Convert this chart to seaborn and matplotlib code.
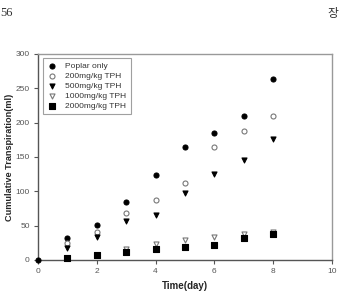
import numpy as np
import pandas as pd
import matplotlib
matplotlib.use('Agg')
import matplotlib.pyplot as plt
import seaborn as sns

# data (cumulative transpiration, ml)
days = [0, 1, 2, 3, 4, 5, 6, 7, 8]
poplar_only = [0, 32, 51, 84, 123, 165, 185, 210, 264]
tph_200 = [np.nan, 25, 41, 69, 87, 112, 165, 188, 210]
tph_500 = [np.nan, 18, 33, 57, 65, 97, 125, 145, 176]
tph_1000 = [np.nan, 3, 7, 16, 23, 29, 33, 38, 41]
tph_2000 = [np.nan, 2.5, 7, 11, 16, 19, 22, 32, 38]

series_names = ['Poplar only', '200mg/kg TPH', '500mg/kg TPH',
                '1000mg/kg TPH', '2000mg/kg TPH']
series_values = [poplar_only, tph_200, tph_500, tph_1000, tph_2000]

x_ticks = [0, 2, 4, 6, 8, 10]
y_ticks = [0, 50, 100, 150, 200, 250, 300]

df = pd.DataFrame({'day': days * 5,
                   'value': sum(series_values, []),
                   'series': [n for n in series_names for _ in days]})

sns.set_style('ticks')
plt.rcParams['font.family'] = ['Liberation Sans', 'DejaVu Sans']

fig = plt.figure(figsize=(3.4, 2.93), dpi=100)
ax = fig.add_axes([0.112, 0.113, 0.864, 0.703])

# marker styles: (marker, face, edge)
styles = {
    'Poplar only': ('o', 'black', 'black'),
    '200mg/kg TPH': ('o', 'white', '#777777'),
    '500mg/kg TPH': ('v', 'black', 'black'),
    '1000mg/kg TPH': ('v', 'white', '#777777'),
    '2000mg/kg TPH': ('s', 'black', 'black'),
}
for name in series_names:
    m, fc, ec = styles[name]
    sub = df[df['series'] == name].dropna()
    sns.scatterplot(data=sub, x='day', y='value', ax=ax, marker=m,
                    color=fc, edgecolor=ec, linewidth=0.8, s=13,
                    label=name, zorder=3, clip_on=False)

ax.set_xlim(0, 10)
ax.set_ylim(0, 300)
ax.set_xticks(x_ticks)
ax.set_yticks(y_ticks)
ax.tick_params(direction='out', length=3, width=0.8, colors='#555555',
               labelsize=6, pad=3)
for side in ['top', 'right']:
    ax.spines[side].set_color('#999999')
    ax.spines[side].set_linewidth(1.0)
for side in ['left', 'bottom']:
    ax.spines[side].set_color('#555555')
    ax.spines[side].set_linewidth(1.0)

ax.set_xlabel('Time(day)', fontsize=7, fontweight='bold', va='center')
ax.set_ylabel('Cumulative Transpiration(ml)', fontsize=6.6,
              fontweight='bold', va='center')
ax.xaxis.set_label_coords(0.5, -0.125)
ax.yaxis.set_label_coords(-0.097, 0.5)

leg = ax.legend(loc='upper left', bbox_to_anchor=(0.016, 0.978),
                fontsize=6, frameon=True, fancybox=False,
                labelspacing=0.25, handletextpad=1.0, borderpad=0.5,
                handlelength=1.2, borderaxespad=0)
leg.get_frame().set_edgecolor('#888888')
leg.get_frame().set_linewidth(0.8)
for t in leg.get_texts():
    t.set_color('#333333')

# page header from the scanned document
fig.text(0.0, 0.955, '56', fontsize=9, family=['Liberation Serif'],
         color='#333333', va='center', ha='left')
fig.text(0.995, 0.955, '장', fontsize=8.5,
         family=['Noto Sans CJK KR', 'DejaVu Sans'],
         color='#333333', va='center', ha='right')

fig.savefig('out.png', dpi=100)
